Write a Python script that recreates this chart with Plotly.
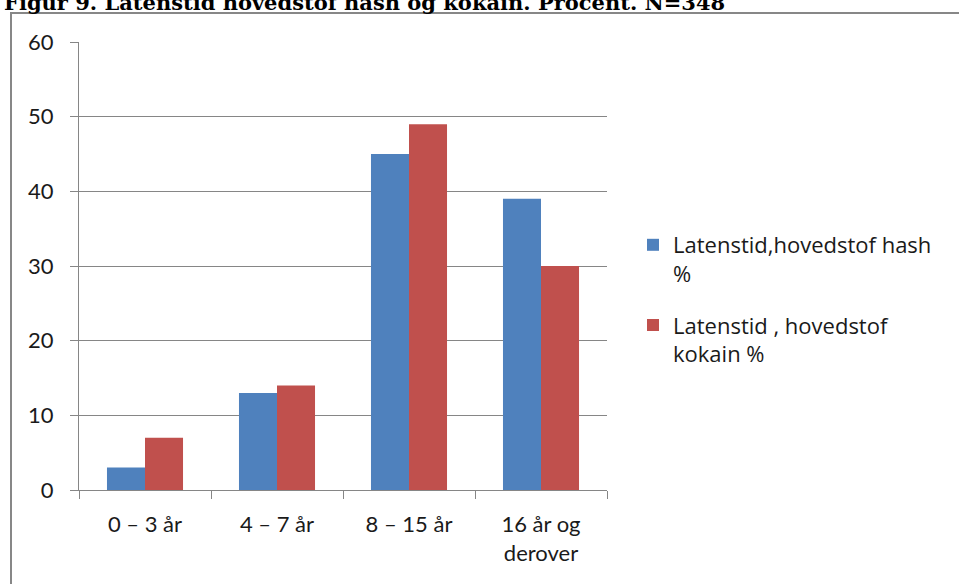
import plotly.graph_objects as go

categories = ["0 – 3 år", "4 – 7 år", "8 – 15 år", "16 år og<br>derover"]
hash_pct = [3, 13, 45, 39]
kokain_pct = [7, 14, 49, 30]
series_names = ["Latenstid,hovedstof hash<br>%", "Latenstid , hovedstof<br>kokain %"]
title_text = "Figur 9. Latenstid hovedstof hash og kokain. Procent. N=348"

W, H = 959, 584
L, R, T, B = 79, 607, 42, 490
pw, ph = R - L, B - T

def xp(px):
    return (px - L) / pw

def yp(py):
    return (B - py) / ph

fig = go.Figure()
fig.add_trace(go.Bar(x=categories, y=hash_pct, name=series_names[0], legendgroup="hash",
                     marker=dict(color="#4F81BD", line=dict(width=0))))
fig.add_trace(go.Bar(x=categories, y=kokain_pct, name=series_names[1], legendgroup="kokain",
                     marker=dict(color="#C0504D", line=dict(width=0))))

fig.update_layout(
    width=W, height=H,
    margin=dict(l=L, r=W - R, t=T, b=H - B),
    paper_bgcolor="white", plot_bgcolor="white",
    bargap=0.424, bargroupgap=0,
    font=dict(family="Lato", size=22, color="#000000"),
    showlegend=True,
    legend=dict(x=xp(633), y=yp(224), xanchor="left", yanchor="top",
                font=dict(family="Open Sans", size=22, color="#1a1a1a"), valign="top",
                tracegroupgap=20, itemwidth=30, bgcolor="rgba(0,0,0,0)"),
)
fig.update_xaxes(type="category", showline=True, linecolor="#868686", linewidth=1,
                 ticks="outside", tickson="boundaries", ticklen=8, tickcolor="#868686",
                 showgrid=False, tickfont=dict(family="Lato", size=22, color="#1a1a1a"),
                 ticklabelstandoff=15)
fig.update_yaxes(range=[0, 60], dtick=10, showline=True, linecolor="#868686", linewidth=1,
                 ticks="outside", ticklen=8, tickcolor="#868686",
                 showgrid=True, gridcolor="#868686", gridwidth=1, zeroline=False,
                 tickfont=dict(family="Lato", size=22, color="#1a1a1a"), ticklabelstandoff=12)

# outer chart border
fig.add_shape(type="rect", xref="paper", yref="paper",
              x0=xp(11), x1=xp(975), y0=yp(600), y1=yp(13),
              line=dict(color="#878787", width=2), fillcolor="rgba(0,0,0,0)", layer="below")

fig.add_annotation(text="<b>" + title_text + "</b>", xref="paper", yref="paper",
                   x=xp(2), y=yp(17.5), xanchor="left", yanchor="bottom", showarrow=False,
                   font=dict(family="DejaVu Serif", size=21, color="#000000"))

fig.write_html("out.html", config={"displayModeBar": False},
               post_script="document.body.style.margin='0';document.body.style.overflow='hidden';")
